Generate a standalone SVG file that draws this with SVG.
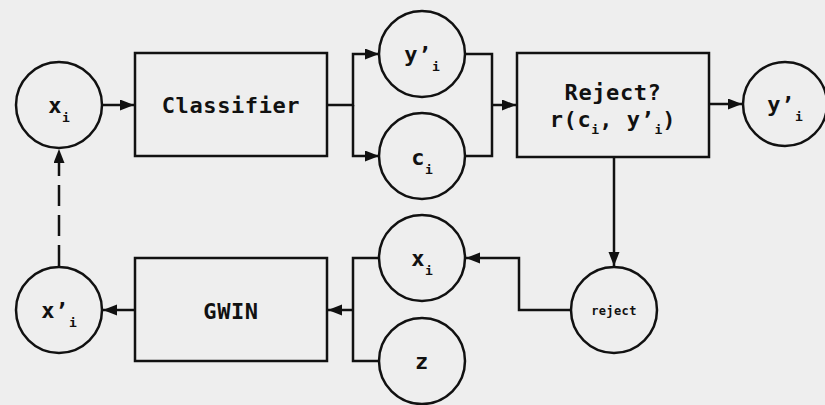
<svg xmlns="http://www.w3.org/2000/svg" width="825" height="405" viewBox="0 0 825 405">
<style>
  .shape { fill: none; stroke: #111; stroke-width: 2.5; }
  .conn { fill: none; stroke: #111; stroke-width: 2.5; }
  .lbl { font-family: "DejaVu Sans Mono", "Liberation Mono", monospace; font-weight: bold; font-size: 22px; letter-spacing: 0.6px; fill: #111; text-anchor: middle; }
  .sub { font-size: 13px; letter-spacing: 0; }
  .small { font-size: 12px; letter-spacing: 0.4px; }
</style>
<defs>
  <marker id="arr" markerUnits="userSpaceOnUse" markerWidth="15" markerHeight="12" refX="14" refY="5.5" orient="auto">
    <path d="M0,0 L14,5.5 L0,11 z" fill="#111"/>
  </marker>
</defs>
<rect width="825" height="405" fill="#eeeeee"/>

<g id="connectors">
  <path class="conn" d="M102,105 H134" marker-end="url(#arr)"/>
  <path class="conn" d="M327,105 H353 V54 H379" marker-end="url(#arr)"/>
  <path class="conn" d="M353,105 V156 H379" marker-end="url(#arr)"/>
  <path class="conn" d="M465,54 H492 V156 H465"/>
  <path class="conn" d="M492,105 H516" marker-end="url(#arr)"/>
  <path class="conn" d="M709,104 H742" marker-end="url(#arr)"/>
  <path class="conn" d="M614,157 V266" marker-end="url(#arr)"/>
  <path class="conn" d="M571,310 H519 V258 H466" marker-end="url(#arr)"/>
  <path class="conn" d="M380,258 H353 V361 H380"/>
  <path class="conn" d="M353,310 H328" marker-end="url(#arr)"/>
  <path class="conn" d="M135,310 H103" marker-end="url(#arr)"/>
  <path class="conn" d="M59,266 V149" stroke-dasharray="21,9" marker-end="url(#arr)"/>
</g>

<g id="xi-top">
  <circle class="shape" cx="59" cy="105" r="43"/>
  <text class="lbl" x="59" y="113">x<tspan class="sub" dy="9">i</tspan></text>
</g>
<g id="classifier">
  <rect class="shape" x="135" y="53" width="192" height="103"/>
  <text class="lbl" x="231" y="113">Classifier</text>
</g>
<g id="yi-top">
  <circle class="shape" cx="422" cy="54" r="43"/>
  <text class="lbl" x="422" y="62">y’<tspan class="sub" dy="9">i</tspan></text>
</g>
<g id="ci">
  <circle class="shape" cx="422" cy="156" r="43"/>
  <text class="lbl" x="422" y="165">c<tspan class="sub" dy="9">i</tspan></text>
</g>
<g id="reject-box">
  <rect class="shape" x="517" y="53" width="192" height="104"/>
  <text class="lbl" x="613" y="100">Reject?</text>
  <text class="lbl" x="613" y="127">r(c<tspan class="sub" dy="7">i</tspan><tspan dy="-7">, y’</tspan><tspan class="sub" dy="7">i</tspan><tspan dy="-7">)</tspan></text>
</g>
<g id="yi-out">
  <circle class="shape" cx="785" cy="104" r="42"/>
  <text class="lbl" x="785" y="112">y’<tspan class="sub" dy="9">i</tspan></text>
</g>
<g id="reject">
  <circle class="shape" cx="614" cy="310" r="43"/>
  <text class="lbl small" x="614" y="315">reject</text>
</g>
<g id="xi-bottom">
  <circle class="shape" cx="422" cy="258" r="43"/>
  <text class="lbl" x="422" y="266">x<tspan class="sub" dy="9">i</tspan></text>
</g>
<g id="z">
  <circle class="shape" cx="422" cy="361" r="43"/>
  <text class="lbl" x="422" y="369">z</text>
</g>
<g id="gwin">
  <rect class="shape" x="135" y="258" width="192" height="103"/>
  <text class="lbl" x="231" y="319">GWIN</text>
</g>
<g id="xprime">
  <circle class="shape" cx="59" cy="310" r="43"/>
  <text class="lbl" x="59" y="318">x’<tspan class="sub" dy="9">i</tspan></text>
</g>
</svg>
